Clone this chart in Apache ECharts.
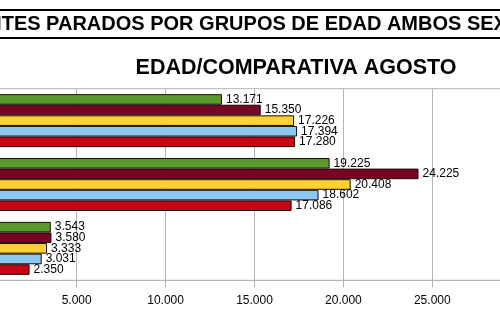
<!DOCTYPE html>
<html><head><meta charset="utf-8">
<script src="https://cdn.jsdelivr.net/npm/echarts@6/dist/echarts.min.js"></script>
<style>html,body{margin:0;padding:0;background:#fff}#c{width:500px;height:323px}</style>
</head><body><div id="c"></div>
<script>
// categories listed top-to-bottom
const categories = ["De 45 y más", "De 25 a 44", "Menores de 25"];
const seriesNames = ["Agosto 2007", "Agosto 2008", "Agosto 2009", "Agosto 2010", "Agosto 2011"];
const s1 = [13171, 19225, 3543];
const s2 = [15350, 24225, 3580];
const s3 = [17226, 20408, 3333];
const s4 = [17394, 18602, 3031];
const s5 = [17280, 17086, 2350];
const colors = ["#5a9a2a", "#760526", "#ffd232", "#8cc8f0", "#c80514"];
const xTicks = [0, 5000, 10000, 15000, 20000, 25000, 30000];

function fmt(v){ return String(v).replace(/\B(?=(\d{3})+(?!\d))/g, "."); }
const allSeries = [s1, s2, s3, s4, s5];

const chart = echarts.init(document.getElementById('c'));
chart.setOption({
  animation: false,
  backgroundColor: '#fff',
  graphic: [
    {type:'rect', shape:{x:0,y:9,width:500,height:2}, style:{fill:'#000'}},
    {type:'rect', shape:{x:0,y:37,width:500,height:2}, style:{fill:'#000'}},
    {type:'text', x:-115, y:24, style:{text:'DEMANDANTES PARADOS POR GRUPOS DE EDAD AMBOS SEXOS', font:'bold 20px Arial', fill:'#000', textVerticalAlign:'middle'}},
    {type:'text', x:296, y:68, style:{text:'EDAD/COMPARATIVA AGOSTO', font:'bold 21.5px Arial', fill:'#000', textAlign:'center', textVerticalAlign:'middle'}}
  ],
  grid: {left:-12.2, right:-21.2, top:88.7, bottom:42.7, containLabel:false, outerBoundsMode:'none', show:true, borderColor:'#b4b4b4', borderWidth:1},
  xAxis: {
    type:'value', min:xTicks[0], max:xTicks[xTicks.length-1], interval:5000,
    axisLine:{show:true, lineStyle:{color:'#b4b4b4'}},
    axisTick:{show:true, length:7, lineStyle:{color:'#b4b4b4'}},
    splitLine:{show:true, lineStyle:{color:'#b4b4b4'}},
    axisLabel:{margin:14, color:'#000', fontFamily:'Arial', fontSize:12, formatter:v=>fmt(v)}
  },
  yAxis: {
    type:'category', data:categories, inverse:true,
    axisLine:{show:true, lineStyle:{color:'#b4b4b4'}},
    axisTick:{show:false}, splitLine:{show:false},
    axisLabel:{color:'#000', fontFamily:'Arial', fontSize:12}
  },
  series: allSeries.map((d,i)=>({
    type:'bar', name:seriesNames[i], data:d,
    barGap:'0%', barCategoryGap:'17%',
    itemStyle:{color:colors[i], borderColor:'#1a0a0a', borderWidth:1},
    label:{show:true, position:'right', distance:4, color:'#000', fontFamily:'Arial', fontSize:12, formatter:p=>fmt(p.value)}
  }))
});
</script></body></html>
